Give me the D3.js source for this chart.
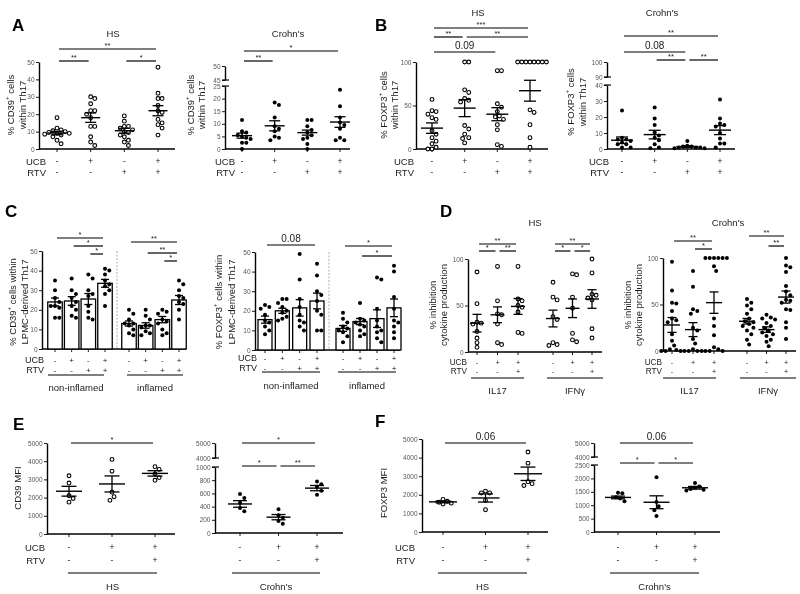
<!DOCTYPE html>
<html>
<head>
<meta charset="utf-8">
<script src="https://cdn.jsdelivr.net/npm/d3@7"></script>
<style>
body { margin: 0; background: #fff; }
svg { display: block; filter: grayscale(1); }
</style>
</head>
<body>
<div id="fig"></div>
<script>
'use strict';

// ---------- data ----------
var UCB4 = ["-", "+", "-", "+"], RTV4 = ["-", "-", "+", "+"];
var UCB3 = ["-", "+", "+"], RTV3 = ["-", "-", "+"];

// A: % CD39+ cells within Th17
var aHsPts = [[18, 12, 11, 10.5, 10, 9.5, 9, 9, 8.5, 8, 7, 5, 3],
              [30, 29, 26, 22, 22, 20, 18, 13, 13, 7, 4, 2],
              [19, 16, 13, 13, 12, 11, 10, 9.5, 8, 7, 5, 4, 2],
              [47, 32, 29, 29, 25, 22, 21, 17, 15, 14, 12, 8]];
var aHsMean = [9.2, 18, 10.5, 22];
var aHsSem = [1, 2.7, 1.4, 2.9];
var aHsSig = [[0, 3, "**"], [0, 1, "**"], [2, 3, "*"]];
var aHsTicks = [0, 10, 20, 30, 40, 50];

var aCdPts = [[11.5, 7, 6.5, 5.5, 5, 4.5, 4, 2.5, 2.5, 0],
              [18.5, 17.5, 12.5, 9, 8, 7, 5, 4.5, 3.5],
              [11.5, 11.5, 9, 7.5, 6.5, 5.5, 4.5, 4, 2, 0],
              [23.5, 17, 12.5, 10.5, 9.5, 8, 4.5, 3.5, 3.5]];
var aCdMean = [5.3, 9.2, 6.5, 10.7];
var aCdSem = [1, 2, 1, 2.1];
var aCdSig = [[0, 3, "*"], [0, 1, "**"]];
var aCdTicksLow = [0, 5, 10, 15, 20, 25];
var aCdTicksHigh = [45, 50];

// B: % FOXP3+ cells within Th17
var bHsPts = [[57, 44, 43, 40, 36, 34, 21, 17, 13, 9, 6, 2, 0, 0],
              [100, 100, 68, 65, 58, 56, 54, 27, 23, 17, 13, 12, 7],
              [90, 90, 52, 48, 43, 38, 37, 34, 28, 22, 5, 3],
              [100, 100, 100, 100, 100, 100, 100, 100, 45, 42, 28, 13, 2]];
var bHsMean = [24, 47, 40, 67];
var bHsSem = [6, 9.8, 7.5, 12];
var bHsSig = [[0, 3, "***"], [0, 1, "**"], [1, 3, "**"], [0, 2, "0.09"]];
var bHsTicks = [0, 50, 100];

var bCdPts = [[24, 7, 6, 6, 5, 4, 3, 3, 1, 1],
              [26, 19, 15, 10.5, 8.5, 7, 5.5, 3, 1, 0.5],
              [5, 2, 1.5, 1.5, 1, 1, 1, 0.5, 0.5],
              [31, 19, 16, 15, 14, 10, 6.5, 3.5, 3.5, 1]];
var bCdMean = [5.5, 9, 1.5, 11.8];
var bCdSem = [2, 2.7, 0.5, 2.8];
var bCdSig = [[0, 3, "**"], [0, 2, "0.08"], [1, 2, "**"], [2, 3, "**"]];
var bCdTicksLow = [0, 10, 20, 30, 40];
var bCdTicksHigh = [90, 100];

// C: LPMC-derived Th17
var cCd39NonPts = [[35, 30, 26, 24, 22, 22, 21, 16, 16],
                   [36, 30, 28, 26, 24, 22, 20, 17, 16],
                   [38, 36, 30, 28, 27, 22, 19, 16, 15],
                   [41, 40, 38, 35, 33, 32, 30, 28, 22]];
var cCd39NonMean = [24, 24.5, 25.5, 33.5];
var cCd39NonSem = [2, 2.2, 2.8, 2];
var cCd39NonSig = [[0, 3, "*"], [1, 3, "*"], [2, 3, "*"]];
var cCd39InfPts = [[20, 18, 15, 13, 13, 12, 10, 8, 7],
                   [20, 17, 15, 12, 12, 11, 9, 8, 7],
                   [20, 19, 18, 15, 14, 13, 10, 8, 7],
                   [35, 33, 30, 27, 26, 24, 23, 20, 15]];
var cCd39InfMean = [13, 12, 15, 25];
var cCd39InfSem = [1.3, 1.4, 1.6, 2.3];
var cCd39InfSig = [[0, 3, "**"], [1, 3, "**"], [2, 3, "*"]];

var cFoxNonPts = [[23, 22, 21, 18, 15, 14, 12, 10, 8],
                  [26, 26, 24, 22, 20, 19, 17, 16, 15],
                  [49, 36, 26, 22, 18, 15, 14, 12, 10],
                  [44, 38, 30, 28, 25, 20, 18, 10, 10]];
var cFoxNonMean = [15.5, 20, 21.5, 25];
var cFoxNonSem = [1.8, 1.3, 4.2, 4];
var cFoxNonSig = [[0, 3, "0.08"]];
var cFoxInfPts = [[19, 16, 14, 12, 11, 10, 9, 7, 4],
                  [24, 16, 15, 14, 13, 12, 10, 8, 7],
                  [37, 36, 21, 15, 12, 10, 9, 6, 4],
                  [43, 40, 27, 21, 15, 14, 12, 9, 6]];
var cFoxInfMean = [11, 14.5, 16, 21.5];
var cFoxInfSem = [1.5, 1.6, 4.5, 4.5];
var cFoxInfSig = [[0, 3, "*"], [1, 3, "*"]];
var cTicks = [0, 10, 20, 30, 40, 50];

// D: % inhibition cytokine production
var dHsIl17Pts = [[86, 52, 32, 31, 30, 22, 15, 10, 5],
                  [92, 55, 41, 40, 30, 10, 8],
                  [92, 57, 55, 50, 48, 43, 21, 20]];
var dHsIl17Mean = [31, 40, 49];
var dHsIl17Sem = [9.5, 8.5, 8.5];
var dHsIl17Sig = [[0, 2, "**"], [0, 1, "*"], [1, 2, "**"]];
var dHsIfnPts = [[75, 59, 56, 38, 35, 10, 8, 7],
                 [84, 83, 59, 47, 20, 13, 11],
                 [100, 85, 62, 61, 58, 56, 25, 15]];
var dHsIfnMean = [36, 47, 57];
var dHsIfnSem = [9, 10, 10];
var dHsIfnSig = [[0, 2, "**"], [0, 1, "*"], [1, 2, "*"]];

var dCdIl17Pts = [[96, 65, 52, 51, 43, 35, 33, 31, 18, 11, 6, 2, 1, 0, 0, 0],
                  [86, 69, 45, 43, 40, 25, 22, 13, 8, 2, 0, 0, 0, 0],
                  [100, 100, 100, 100, 100, 100, 91, 86, 35, 27, 17, 4, 2, 0, 0, 0]];
var dCdIl17Mean = [28, 23, 52];
var dCdIl17Sem = [8, 7.5, 11.5];
var dCdIl17Sig = [[0, 2, "**"], [1, 2, "*"]];
var dCdIfnPts = [[56, 52, 49, 45, 40, 35, 32, 31, 29, 27, 25, 22, 18, 12, 7],
                 [39, 36, 35, 34, 30, 27, 25, 22, 20, 18, 16, 12, 10, 5],
                 [100, 92, 90, 85, 70, 64, 60, 55, 54, 52, 45, 44, 31, 25, 13]];
var dCdIfnMean = [32, 23, 58];
var dCdIfnSem = [3, 3, 6.5];
var dCdIfnSig = [[0, 2, "**"], [1, 2, "**"]];
var dTicks = [0, 50, 100];

// E: CD39 MFI
var eHsPts = [[3200, 2800, 2100, 1950, 1750], [4100, 3450, 2300, 2050, 1850], [3700, 3550, 3300, 3100, 2950]];
var eHsMean = [2350, 2750, 3330];
var eHsSem = [270, 440, 150];
var eHsSig = [[0, 2, "*"]];
var eHsTicks = [0, 1000, 2000, 3000, 4000, 5000];
var eCdPts = [[590, 530, 460, 380, 330], [360, 270, 230, 180, 140], [780, 740, 700, 640, 580]];
var eCdMean = [440, 240, 680];
var eCdSem = [50, 40, 40];
var eCdSig = [[0, 2, "*"], [0, 1, "*"], [1, 2, "**"]];
var eCdTicksLow = [0, 200, 400, 600, 800, 1000];
var eCdTicksHigh = [4000, 5000];

// F: FOXP3 MFI
var fHsPts = [[1750, 1650, 1600, 1550, 1500], [2200, 2100, 2100, 1700, 1200], [4300, 3700, 2700, 2600, 2500]];
var fHsMean = [1620, 1830, 3130];
var fHsSem = [50, 220, 360];
var fHsSig = [[0, 2, "0.06"]];
var fHsTicks = [0, 1000, 2000, 3000, 4000, 5000];
var fCdPts = [[1460, 1450, 1300, 1250, 1150], [2040, 1120, 960, 810, 600], [1830, 1700, 1650, 1600, 1580, 1550]];
var fCdMean = [1290, 1110, 1650];
var fCdSem = [50, 240, 50];
var fCdSig = [[0, 2, "0.06"], [0, 1, "*"], [1, 2, "*"]];
var fCdTicksLow = [0, 500, 1000, 1500, 2000, 2500];
var fCdTicksHigh = [4000, 5000];

// ---------- drawing ----------
var FONT = "Arial, 'Liberation Sans', sans-serif";
var INK = "#1a1a1a";

var svg = d3.select("#fig").append("svg")
    .attr("width", 800).attr("height", 594)
    .attr("font-family", FONT);

svg.append("rect").attr("width", 800).attr("height", 594).attr("fill", "white");

// "^x" marks a superscript character
function richText(sel, str) {
    str.split(/(\^.)/).forEach(function(part) {
        if (!part) return;
        if (part.charAt(0) === "^") {
            sel.append("tspan").attr("baseline-shift", "super").attr("font-size", "65%").text(part.slice(1));
        } else {
            sel.append("tspan").text(part);
        }
    });
}

// greedy scatter spread: points at similar heights are pushed sideways
// (elliptical clearance, a bit taller than wide)
function swarm(vals, y, r) {
    var minX = 2 * r + 0.3, minY = 2.4 * r, step = minX / 2;
    var items = vals.map(function(v) { return {v: v, py: y(v), dx: 0}; });
    items.sort(function(a, b) { return a.py - b.py; });
    var placed = [];
    items.forEach(function(it) {
        for (var k = 0; k < 60; k++) {
            var off = (k % 2 ? 1 : -1) * Math.ceil(k / 2) * step;
            var ok = placed.every(function(q) {
                var ex = (q.dx - off) / minX, ey = (q.py - it.py) / minY;
                return ex * ex + ey * ey >= 0.999;
            });
            if (ok) { it.dx = off; break; }
        }
        placed.push(it);
    });
    return items;
}

function hline(g, x1, x2, y, w) {
    g.append("line").attr("x1", x1).attr("x2", x2).attr("y1", y).attr("y2", y)
        .attr("stroke", "#000").attr("stroke-width", w || 1.3);
}

function panel(p) {
    var g = svg.append("g");
    var rowFont = p.rowFont || 9.5;

    var segs = p.segs.map(function(s) {
        return {d: s.d, ticks: s.ticks, sc: d3.scaleLinear().domain(s.d).range(s.r)};
    });
    var y = function(v) {
        for (var i = 0; i < segs.length; i++) if (v <= segs[i].d[1]) return segs[i].sc(v);
        return segs[segs.length - 1].sc(v);
    };
    var y0 = segs[0].sc(0);
    var yTop = segs[segs.length - 1].sc(segs[segs.length - 1].d[1]);

    // y axis (possibly broken)
    segs.forEach(function(s, i) {
        var a = g.append("g").attr("transform", "translate(" + p.ax + ",0)")
            .call(d3.axisLeft(s.sc).tickValues(s.ticks).tickFormat(d3.format("d"))
                .tickSize(3).tickSizeOuter(0).tickPadding(1.5));
        a.select(".domain").attr("stroke", "#000").attr("stroke-width", 1.4);
        a.selectAll(".tick line").attr("stroke", "#000").attr("stroke-width", 0.9);
        a.selectAll(".tick text").attr("font-size", 6.5).attr("fill", "#555").attr("font-family", FONT);
        if (segs.length > 1) {
            var e = i === 0 ? s.d[1] : s.d[0];
            hline(g, p.ax - 3, p.ax + 4, s.sc(e), 1.2);
        }
    });

    // x axis
    hline(g, p.ax, p.xEnd, y0, 1.4);

    if (p.divider) {
        g.append("line").attr("x1", p.divider).attr("x2", p.divider)
            .attr("y1", yTop).attr("y2", y0)
            .attr("stroke", "#999").attr("stroke-width", 0.8).attr("stroke-dasharray", "2,1.5");
    }

    var r = p.open ? 1.9 : 2.0;

    p.groups.forEach(function(gr) {
        var x = d3.scalePoint().domain(d3.range(gr.pts.length)).range(gr.x);

        // category ticks
        x.domain().forEach(function(i) {
            g.append("line").attr("x1", x(i)).attr("x2", x(i)).attr("y1", y0).attr("y2", y0 + 3)
                .attr("stroke", "#000").attr("stroke-width", 0.9);
        });

        // bars
        if (p.bars) {
            g.selectAll(null).data(gr.mean).enter().append("rect")
                .attr("x", function(d, i) { return x(i) - p.bw / 2; })
                .attr("y", function(d) { return y(d); })
                .attr("width", p.bw)
                .attr("height", function(d) { return y0 - y(d); })
                .attr("fill", "white").attr("stroke", "#000").attr("stroke-width", 1.3);
        }

        // points
        gr.pts.forEach(function(vals, i) {
            var items = swarm(vals, y, r);
            g.selectAll(null).data(items).enter().append("circle")
                .attr("cx", function(d) { return x(i) + d.dx; })
                .attr("cy", function(d) { return d.py; })
                .attr("r", r)
                .attr("fill", p.open ? "white" : "#000")
                .attr("stroke", "#000").attr("stroke-width", p.open ? 1.1 : 0);
        });

        // mean +/- SEM
        gr.mean.forEach(function(m, i) {
            var cx = x(i), s = gr.sem[i];
            if (!p.bars) hline(g, cx - p.hw, cx + p.hw, y(m), 1.4);
            g.append("line").attr("x1", cx).attr("x2", cx).attr("y1", y(m - s)).attr("y2", y(m + s))
                .attr("stroke", "#000").attr("stroke-width", 1.3);
            hline(g, cx - p.cw, cx + p.cw, y(m + s), 1.3);
            hline(g, cx - p.cw, cx + p.cw, y(m - s), 1.3);
        });

        // significance bars
        gr.sig.forEach(function(s, k) {
            var ys = gr.sigY[k];
            var x1 = x(s[0]) + 2, x2 = x(s[1]) - 2;
            hline(g, x1, x2, ys, 1.2);
            var star = s[2].indexOf("*") >= 0;
            g.append("text").attr("x", (x1 + x2) / 2).attr("y", star ? ys - 1.2 : ys - 3)
                .attr("text-anchor", "middle").attr("font-size", star ? 7.5 : 10)
                .attr("fill", INK).text(s[2]);
        });

        // treatment rows
        [gr.ucb, gr.rtv].forEach(function(row, k) {
            g.selectAll(null).data(row).enter().append("text")
                .attr("x", function(d, i) { return x(i); })
                .attr("y", p.rowY[k])
                .attr("text-anchor", "middle").attr("dominant-baseline", "central")
                .attr("font-size", rowFont - 1).attr("fill", INK)
                .text(function(d) { return d; });
        });

        if (gr.under) {
            hline(g, gr.under[0], gr.under[1], p.underY, 1.1);
            g.append("text").attr("x", (gr.under[0] + gr.under[1]) / 2).attr("y", p.labelY)
                .attr("text-anchor", "middle").attr("dominant-baseline", "central")
                .attr("font-size", 9.5).attr("fill", INK).text(gr.label);
        }
    });

    if (p.rowX) {
        ["UCB", "RTV"].forEach(function(t, k) {
            g.append("text").attr("x", p.rowX).attr("y", p.rowY[k])
                .attr("text-anchor", "end").attr("dominant-baseline", "central")
                .attr("font-size", rowFont).attr("fill", INK).text(t);
        });
    }

    if (p.title) {
        g.append("text").attr("x", p.title[1]).attr("y", p.title[2])
            .attr("text-anchor", "middle").attr("dominant-baseline", "central")
            .attr("font-size", 9.5).attr("fill", INK).text(p.title[0]);
    }

    if (p.ylab) {
        p.ylab.lines.forEach(function(line, k) {
            var t = g.append("text")
                .attr("transform", "translate(" + p.ylab.x[k] + "," + p.ylab.y + ") rotate(-90)")
                .attr("text-anchor", "middle").attr("dominant-baseline", "central")
                .attr("font-size", 9.5).attr("fill", INK);
            richText(t, line);
        });
    }

    if (p.letter) {
        g.append("text").attr("x", p.letter[1]).attr("y", p.letter[2])
            .attr("font-size", 17).attr("font-weight", "bold").attr("fill", "#000").text(p.letter[0]);
    }
}

// ---- A ----
panel({
    letter: ["A", 12, 31], title: ["HS", 113, 33], ax: 39, xEnd: 175,
    segs: [{d: [0, 50], r: [149, 62], ticks: aHsTicks}],
    ylab: {lines: ["% CD39^+ cells", "within Th17"], x: [10, 22], y: 105},
    open: true, hw: 9.5, cw: 5.5, rowX: 46, rowY: [161, 172],
    groups: [{x: [57, 158], pts: aHsPts, mean: aHsMean, sem: aHsSem, sig: aHsSig, sigY: [49, 61, 61], ucb: UCB4, rtv: RTV4}]
});
panel({
    title: ["Crohn's", 288, 33], ax: 225, xEnd: 350,
    segs: [{d: [0, 25], r: [149, 86], ticks: aCdTicksLow}, {d: [45, 50], r: [80, 66], ticks: aCdTicksHigh}],
    ylab: {lines: ["% CD39^+ cells", "within Th17"], x: [190, 201], y: 105},
    open: false, hw: 10, cw: 5.5, rowX: 235, rowY: [161, 172],
    groups: [{x: [242, 340], pts: aCdPts, mean: aCdMean, sem: aCdSem, sig: aCdSig, sigY: [51, 61], ucb: UCB4, rtv: RTV4}]
});

// ---- B ----
panel({
    letter: ["B", 375, 31], title: ["HS", 478, 12], ax: 416, xEnd: 548,
    segs: [{d: [0, 100], r: [149, 62], ticks: bHsTicks}],
    ylab: {lines: ["% FOXP3^+ cells", "within Th17"], x: [383, 394], y: 105},
    open: true, hw: 11, cw: 6, rowX: 414, rowY: [161, 172],
    groups: [{x: [432, 530], pts: bHsPts, mean: bHsMean, sem: bHsSem, sig: bHsSig, sigY: [28, 37, 37, 52], ucb: UCB4, rtv: RTV4}]
});
panel({
    title: ["Crohn's", 662, 12], ax: 607, xEnd: 735,
    segs: [{d: [0, 40], r: [149, 85], ticks: bCdTicksLow}, {d: [90, 100], r: [77, 62], ticks: bCdTicksHigh}],
    ylab: {lines: ["% FOXP3^+ cells", "within Th17"], x: [570, 582], y: 102},
    open: false, hw: 11, cw: 6, rowX: 609, rowY: [161, 172],
    groups: [{x: [622, 720], pts: bCdPts, mean: bCdMean, sem: bCdSem, sig: bCdSig, sigY: [36, 52, 60, 60], ucb: UCB4, rtv: RTV4}]
});

// ---- C ----
panel({
    letter: ["C", 5, 217], ax: 42, xEnd: 186,
    segs: [{d: [0, 50], r: [349, 251], ticks: cTicks}],
    ylab: {lines: ["% CD39^+ cells within", "LPMC-derived Th17"], x: [12, 24], y: 302},
    open: false, bars: true, bw: 14.5, hw: 0, cw: 4, rowX: 44, rowY: [360, 370], rowFont: 9,
    underY: 375, labelY: 387, divider: 117,
    groups: [
        {x: [55, 105], pts: cCd39NonPts, mean: cCd39NonMean, sem: cCd39NonSem, sig: cCd39NonSig, sigY: [238, 246, 254],
         ucb: UCB4, rtv: RTV4, under: [48, 104], label: "non-inflamed"},
        {x: [129, 179], pts: cCd39InfPts, mean: cCd39InfMean, sem: cCd39InfSem, sig: cCd39InfSig, sigY: [242, 253, 261],
         ucb: UCB4, rtv: RTV4, under: [127, 183], label: "inflamed"}
    ]
});
panel({
    ax: 255, xEnd: 400,
    segs: [{d: [0, 50], r: [350, 252], ticks: cTicks}],
    ylab: {lines: ["% FOXP3^+ cells within", "LPMC-derived Th17"], x: [218, 231], y: 302},
    open: false, bars: true, bw: 14, hw: 0, cw: 4, rowX: 257, rowY: [358, 368], rowFont: 9,
    underY: 372, labelY: 385, divider: 329,
    groups: [
        {x: [265, 317], pts: cFoxNonPts, mean: cFoxNonMean, sem: cFoxNonSem, sig: cFoxNonSig, sigY: [245],
         ucb: UCB4, rtv: RTV4, under: [262, 320], label: "non-inflamed"},
        {x: [343, 394], pts: cFoxInfPts, mean: cFoxInfMean, sem: cFoxInfSem, sig: cFoxInfSig, sigY: [246, 256],
         ucb: UCB4, rtv: RTV4, under: [338, 396], label: "inflamed"}
    ]
});

// ---- D ----
panel({
    letter: ["D", 440, 217], title: ["HS", 535, 222], ax: 468, xEnd: 602,
    segs: [{d: [0, 100], r: [352, 259], ticks: dTicks}],
    ylab: {lines: ["% inhibition", "cytokine production"], x: [432, 443], y: 305},
    open: true, hw: 7, cw: 4.5, rowX: 467, rowY: [362, 371], rowFont: 8.2, underY: 378, labelY: 390,
    groups: [
        {x: [477, 518], pts: dHsIl17Pts, mean: dHsIl17Mean, sem: dHsIl17Sem, sig: dHsIl17Sig, sigY: [244, 251, 251],
         ucb: UCB3, rtv: RTV3, under: [471, 524], label: "IL17"},
        {x: [553, 592], pts: dHsIfnPts, mean: dHsIfnMean, sem: dHsIfnSem, sig: dHsIfnSig, sigY: [244, 251, 251],
         ucb: UCB3, rtv: RTV3, under: [547, 603], label: "IFNγ"}
    ]
});
panel({
    title: ["Crohn's", 728, 222], ax: 663, xEnd: 796,
    segs: [{d: [0, 100], r: [351, 258], ticks: dTicks}],
    ylab: {lines: ["% inhibition", "cytokine production"], x: [627, 638], y: 305},
    open: false, hw: 8, cw: 4.5, rowX: 662, rowY: [362, 371], rowFont: 8.2, underY: 378, labelY: 390,
    groups: [
        {x: [672, 714], pts: dCdIl17Pts, mean: dCdIl17Mean, sem: dCdIl17Sem, sig: dCdIl17Sig, sigY: [241, 249],
         ucb: UCB3, rtv: RTV3, under: [663, 716], label: "IL17"},
        {x: [747, 786], pts: dCdIfnPts, mean: dCdIfnMean, sem: dCdIfnSem, sig: dCdIfnSig, sigY: [236, 246],
         ucb: UCB3, rtv: RTV3, under: [740, 796], label: "IFNγ"}
    ]
});

// ---- E ----
panel({
    letter: ["E", 13, 430], ax: 47, xEnd: 175,
    segs: [{d: [0, 5000], r: [534, 443], ticks: eHsTicks}],
    ylab: {lines: ["CD39 MFI"], x: [17], y: 488},
    open: true, hw: 13, cw: 7.5, rowX: 45, rowY: [547, 560], underY: 573, labelY: 586,
    groups: [{x: [69, 155], pts: eHsPts, mean: eHsMean, sem: eHsSem, sig: eHsSig, sigY: [443],
              ucb: UCB3, rtv: RTV3, under: [68, 157], label: "HS"}]
});
panel({
    ax: 215, xEnd: 343,
    segs: [{d: [0, 1000], r: [533, 467], ticks: eCdTicksLow}, {d: [4000, 5000], r: [458, 443], ticks: eCdTicksHigh}],
    open: false, hw: 12, cw: 7, rowY: [547, 560], underY: 573, labelY: 586,
    groups: [{x: [240, 317], pts: eCdPts, mean: eCdMean, sem: eCdSem, sig: eCdSig, sigY: [443, 466, 466],
              ucb: UCB3, rtv: RTV3, under: [232, 320], label: "Crohn's"}]
});

// ---- F ----
panel({
    letter: ["F", 375, 427], ax: 422, xEnd: 548,
    segs: [{d: [0, 5000], r: [532, 439], ticks: fHsTicks}],
    ylab: {lines: ["FOXP3 MFI"], x: [383], y: 493},
    open: true, hw: 14, cw: 7.5, rowX: 415, rowY: [547, 560], underY: 573, labelY: 586,
    groups: [{x: [443, 528], pts: fHsPts, mean: fHsMean, sem: fHsSem, sig: fHsSig, sigY: [443],
              ucb: UCB3, rtv: RTV3, under: [438, 527], label: "HS"}]
});
panel({
    ax: 594, xEnd: 720,
    segs: [{d: [0, 2500], r: [532, 465], ticks: fCdTicksLow}, {d: [4000, 5000], r: [457, 443], ticks: fCdTicksHigh}],
    open: false, hw: 13, cw: 7, rowY: [547, 560], underY: 573, labelY: 586,
    groups: [{x: [618, 695], pts: fCdPts, mean: fCdMean, sem: fCdSem, sig: fCdSig, sigY: [443, 463, 463],
              ucb: UCB3, rtv: RTV3, under: [610, 699], label: "Crohn's"}]
});
</script>
</body>
</html>
